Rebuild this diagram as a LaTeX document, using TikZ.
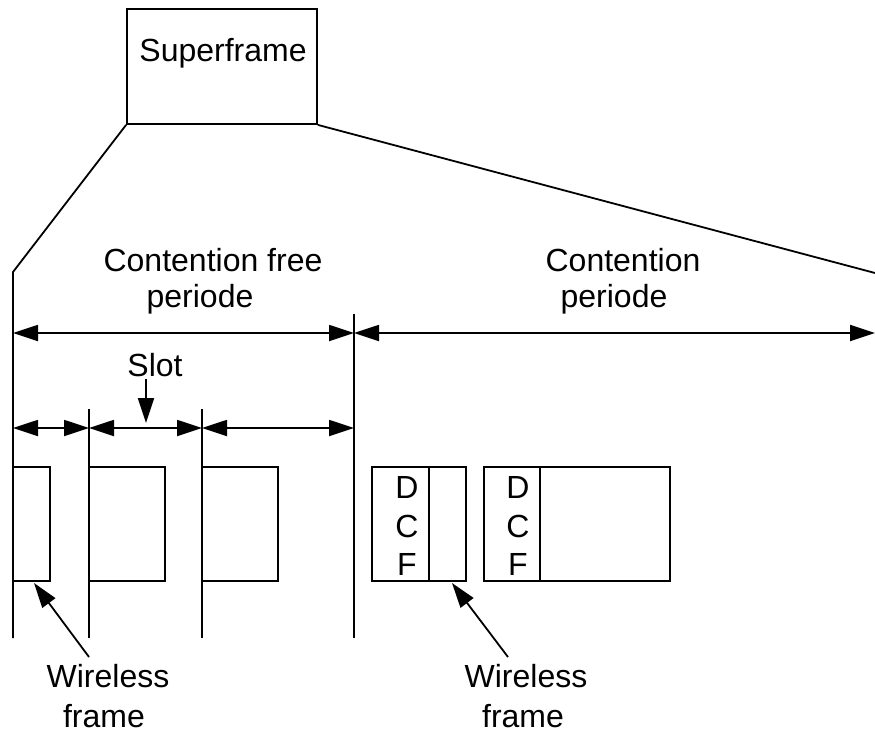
\documentclass[tikz,border=0pt]{standalone}
\usepackage{fontspec}
\setmainfont{Liberation Sans}
\usetikzlibrary{arrows.meta}
\begin{document}
\begin{tikzpicture}[x=1pt,y=-1pt,
  ln/.style={line width=1.8pt},
  box/.style={draw,line width=1.8pt,rectangle,inner sep=0pt},
  lbl/.style={inner sep=0pt,anchor=base,font=\fontsize{32}{36}\selectfont},
  tip/.style={-{Triangle[length=25pt,width=16pt]}},
  dbl/.style={{Triangle[length=25pt,width=16pt]}-{Triangle[length=25pt,width=16pt]}}]
\useasboundingbox (0,0) rectangle (875,731);
% superframe
\node[box,minimum width=190pt,minimum height=115pt] (sf) at (222,66.5) {};
\node[lbl] (sft) at (223,61) {Superframe};
% coordinates
\coordinate (l0) at (13,272);
\coordinate (l0b) at (13,638);
\coordinate (r0) at (875,273);
\coordinate (v1t) at (89,409);
\coordinate (v1b) at (89,638);
\coordinate (v2t) at (202,409);
\coordinate (v2b) at (202,638);
\coordinate (v3t) at (354,314);
\coordinate (v3b) at (354,638);
\draw[ln] (sf.south west) -- (l0) -- (l0b);
\draw[ln] (sf.south east) -- (r0);
\draw[ln] (v1t) -- (v1b);
\draw[ln] (v2t) -- (v2b);
\draw[ln] (v3t) -- (v3b);
% period labels
\node[lbl] (cf1) at (213,271) {Contention free};
\node[lbl] (cf2) at (200,307) {periode};
\node[lbl] (cp1) at (623,271) {Contention};
\node[lbl] (cp2) at (614,307) {periode};
% big arrows
\coordinate (a0) at (13,333);
\coordinate (a1) at (354,333);
\coordinate (a2) at (875,333);
\draw[ln,dbl] (a0) -- (a1);
\draw[ln,dbl] (a1) -- (a2);
% slot arrows
\coordinate (s0) at (13,428);
\coordinate (s1) at (89,428);
\coordinate (s2) at (202,428);
\coordinate (s3) at (354,428);
\draw[ln,dbl] (s0) -- (s1);
\draw[ln,dbl] (s1) -- (s2);
\draw[ln,dbl] (s2) -- (s3);
\node[lbl] (slot) at (155,376) {Slot};
\coordinate (slt) at (146,379);
\coordinate (slh) at (146,423);
\draw[ln,tip] (slt) -- (slh);
% frames in CFP
\node[box,minimum width=37pt,minimum height=114pt] (f1) at (31.5,524) {};
\node[box,minimum width=76pt,minimum height=114pt] (f2) at (127,524) {};
\node[box,minimum width=76pt,minimum height=114pt] (f3) at (240,524) {};
% frames in CP
\node[box,minimum width=57pt,minimum height=114pt] (d1) at (400.5,524) {};
\node[box,minimum width=37pt,minimum height=114pt] (w1) at (447.5,524) {};
\node[box,minimum width=56pt,minimum height=114pt] (d2) at (512,524) {};
\node[box,minimum width=130pt,minimum height=114pt] (w2) at (605,524) {};
\node[lbl] (d1a) at (407,498) {D};
\node[lbl] (d1b) at (407,537) {C};
\node[lbl] (d1c) at (407,575) {F};
\node[lbl] (d2a) at (518,498) {D};
\node[lbl] (d2b) at (518,537) {C};
\node[lbl] (d2c) at (518,575) {F};
% wireless frame labels
\node[lbl] (wl1) at (108,687) {Wireless};
\node[lbl] (wl2) at (104,727) {frame};
\node[lbl] (wr1) at (526,687) {Wireless};
\node[lbl] (wr2) at (523,727) {frame};
\coordinate (wlt) at (89,657);
\coordinate (wlh) at (34,583);
\coordinate (wrt) at (508,657);
\coordinate (wrh) at (452,583);
\draw[ln,tip] (wlt) -- (wlh);
\draw[ln,tip] (wrt) -- (wrh);
\end{tikzpicture}
\end{document}
